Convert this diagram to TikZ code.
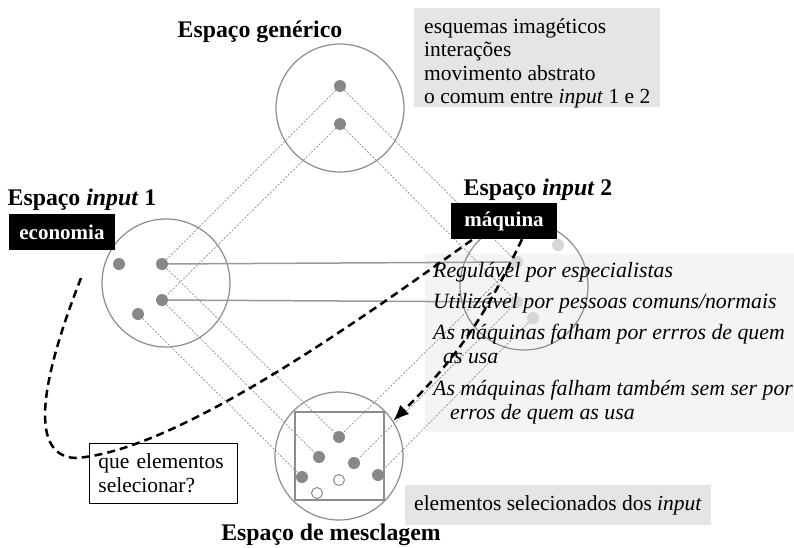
\documentclass[tikz,border=0pt]{standalone}
\usepackage{fontspec}
\setmainfont{Liberation Serif}
\usetikzlibrary{arrows.meta,calc}
\definecolor{spacegray}{HTML}{8C8C8C}
\definecolor{dotgray}{HTML}{888888}
\definecolor{faintgray}{HTML}{D6D6D6}
\definecolor{linegray}{HTML}{9A9A9A}
\definecolor{projgray}{HTML}{8E8E8E}
\definecolor{boxgray}{HTML}{E5E5E7}
\definecolor{featgray}{HTML}{F4F4F4}
\tikzstyle{space} = [circle, draw=spacegray, line width=1.2pt, minimum size=128pt, inner sep=0pt]
\tikzstyle{elem} = [circle, fill=dotgray, minimum size=12pt, inner sep=0pt]
\tikzstyle{faintelem} = [elem, fill=faintgray]
\tikzstyle{newelem} = [circle, draw=dotgray, fill=white, line width=1pt, minimum size=11pt, inner sep=0pt]
\tikzstyle{proj} = [draw=projgray, line width=0.7pt, dash pattern=on 2pt off 1.6pt]
\tikzstyle{link} = [draw=linegray, line width=1.5pt]
\tikzstyle{lasso} = [draw, line width=2.5pt, dash pattern=on 8pt off 5pt]
\tikzstyle{title} = [font=\fontsize{23.8}{26}\selectfont\bfseries, anchor=base, inner sep=0pt]
\tikzstyle{tag} = [fill=black, text=white, font=\fontsize{21}{24}\selectfont\bfseries, minimum width=106pt, minimum height=36pt, inner sep=0pt]
\tikzstyle{note} = [font=\fontsize{21.5}{23.5}\selectfont, align=left, anchor=north west, inner sep=0pt]

\begin{document}
\begin{tikzpicture}[x=1pt, y=-1pt]
        \useasboundingbox (0,0) rectangle (794,547);
        \fill[boxgray] (414,8) rectangle (660,107);
        \fill[featgray] (425,254) rectangle (794,432);

        \node (generic) [space] at (340,108) {};
        \node (input1) [space] at (166,283) {};
        \node (input2) [space] at (524,286) {};
        \node (blend) [space] at (339,456) {};
        \draw[spacegray, line width=1.2pt] (295,412) rectangle (384,500);

        \node (g1) [elem] at (340,86) {};
        \node (g2) [elem] at (340,124) {};
        \node (a1) [elem] at (119,264) {};
        \node (a2) [elem] at (162,264) {};
        \node (a3) [elem] at (162,300) {};
        \node (a4) [elem] at (138,314) {};
        \node (b1) [faintelem] at (558,245) {};
        \node (b2) [faintelem] at (517,262) {};
        \node (b3) [faintelem] at (517,302) {};
        \node (b4) [faintelem] at (533,318) {};
        \node (m1) [elem] at (339,437) {};
        \node (m2) [elem] at (319,457) {};
        \node (m3) [elem] at (354,463) {};
        \node (m4) [elem] at (302,477) {};
        \node (m5) [elem] at (378,475) {};
        \node (n1) [newelem] at (339,480) {};
        \node (n2) [newelem] at (317,493) {};

        \path [proj] (g1) -- (a2);
        \path [proj] (g2) -- (a3);
        \path [proj] (g1) -- (b2);
        \path [proj] (g2) -- (b3);
        \path [proj] (a2) -- (m1);
        \path [proj] (a3) -- (m2);
        \path [proj] (a4) -- (m4);
        \path [proj] (b2) -- (m1);
        \path [proj] (b3) -- (m3);
        \path [proj] (b4) -- (m5);
        \path [link] (a2) -- (b2);
        \path [link] (a3) -- (b3);

        \node (tgeneric) [title] at (260,37) {Espaço genérico};
        \node (tinput1) [title] at (82,205) {Espaço \textit{input} 1};
        \node (tinput2) [title] at (538,195) {Espaço \textit{input} 2};
        \node (tblend) [title] at (331,540) {Espaço de mesclagem};

        \node (economia) [tag] at (62,232) {economia};
        \node (maquina) [tag] at (504,221) {máquina};

        \node (common) [note] at (424,18) {esquemas imagéticos\\ interações\\ movimento abstrato\\ o comum entre \textit{input} 1 e 2};
        \node (features) [note, font=\fontsize{21.8}{24}\selectfont\itshape] at (433,262) {Regulável por especialistas\\[7pt] Utilizável por pessoas comuns/normais\\[7pt] As máquinas falham por errros de quem\\ \hspace*{10pt}as usa\\[8pt] As máquinas falham também sem ser por\\ \hspace*{17pt}erros de quem as usa};
        \node (selected) [note, anchor=west, fill=boxgray, inner xsep=9pt, minimum height=40pt] at (405,505) {elementos selecionados dos \textit{input}};
        \node (question) [note, draw, fill=white, line width=0.8pt, text width=130pt, inner xsep=9pt, minimum height=60pt] at (89,443) {que elementos\\ selecionar?};

        \coordinate (lassostart) at (81,278);
        \path [lasso] (lassostart) .. controls (45,370) and (25,455) .. (75,458) .. controls (180,452) and (380,305) .. ([xshift=-31pt]maquina.south);
        \path [lasso, -{Latex[length=16pt,width=13pt]}] ([xshift=18pt]maquina.south) to[bend left=10] (blend.33);
    \end{tikzpicture}
\end{document}
